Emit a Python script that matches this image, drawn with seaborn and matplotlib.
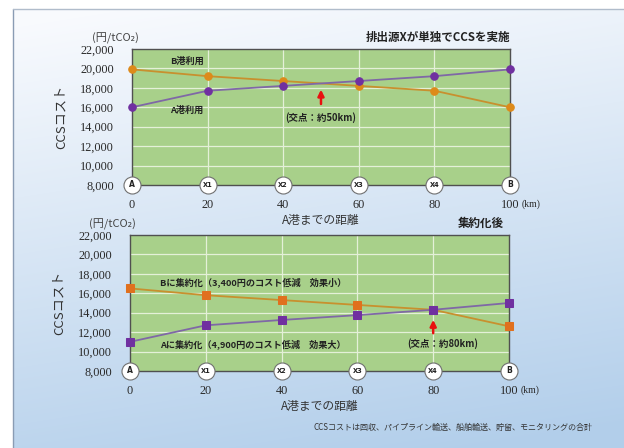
import numpy as np
import pandas as pd
import matplotlib
matplotlib.use("Agg")
import matplotlib.pyplot as plt
import seaborn as sns

sns.set_theme(style="white")
JP = ['Noto Sans CJK JP', 'DejaVu Sans']
SERIF = ['Liberation Serif', 'DejaVu Serif']
plt.rcParams['font.family'] = JP

# ---- data ----
distance = [0, 20, 40, 60, 80, 100]
site_labels = ['A', 'X1', 'X2', 'X3', 'X4', 'B']
y_ticks = [8000, 10000, 12000, 14000, 16000, 18000, 20000, 22000]

top_a_port = [16000, 17700, 18200, 18700, 19200, 19900]   # A港利用
top_b_port = [19900, 19200, 18700, 18200, 17700, 16000]   # B港利用
bot_b_hub = [16500, 15800, 15300, 14800, 14300, 12600]    # Bに集約化
bot_a_hub = [11000, 12700, 13250, 13750, 14300, 15000]    # Aに集約化

top_title = '排出源Xが単独でCCSを実施'
bot_title = '集約化後'
top_a_label = 'A港利用'
top_b_label = 'B港利用'
top_cross = '(交点：約50km)'
bot_b_label = 'Bに集約化（3,400円のコスト低減　効果小）'
bot_a_label = 'Aに集約化（4,900円のコスト低減　効果大）'
bot_cross = '(交点：約80km)'
y_label = 'CCSコスト'
unit_label = '(円/tCO₂)'
x_label = 'A港までの距離'
footnote = 'CCSコストは回収、パイプライン輸送、船舶輸送、貯留、モニタリングの合計'

PURPLE_LINE = '#7f68a6'
PURPLE_MK = '#7030a0'
ORANGE_LINE = '#c8902e'
ORANGE_MK = '#dd8a1a'
ORANGE_SQ = '#e0701e'
GREEN = '#a8d08a'
TXT = '#2a2a2a'

fig = plt.figure(figsize=(6.24, 4.48), dpi=100)

# background gradient and frame
bg = fig.add_axes([0, 0, 1, 1], zorder=-10)
H, W = 448, 624
yy, xx = np.mgrid[0:H, 0:W]
t = np.clip((yy / H) * 0.9 + (xx / W) * 0.2 - 0.05, 0, 1)
c0 = np.array([0.975, 0.982, 0.995])
c1 = np.array([0.70, 0.81, 0.92])
img = c0[None, None, :] * (1 - t[..., None]) + c1[None, None, :] * t[..., None]
img[:9, :, :] = 1.0
img[:, :13, :] = 1.0
bg.imshow(img, aspect='auto', extent=[0, W, H, 0])
bg.plot([13, 13], [9, 448], color='#8a9cb4', lw=1)
bg.plot([13, 624], [9, 9], color='#b0bccb', lw=1)
bg.set_xlim(0, W); bg.set_ylim(H, 0)
bg.axis('off')


def setup(ax):
    ax.set_facecolor(GREEN)
    ax.set_xlim(0, 100)
    ax.set_ylim(8000, 22000)
    ax.set_yticks(y_ticks)
    ax.set_yticklabels([f'{v:,}' for v in y_ticks], fontfamily=SERIF, fontsize=8.8, color=TXT)
    ax.set_xticks(distance)
    ax.set_xticklabels([str(d) for d in distance], fontfamily=SERIF, fontsize=8.8, color=TXT)
    ax.tick_params(axis='both', length=0)
    ax.tick_params(axis='y', pad=13)
    ax.tick_params(axis='x', pad=10)
    for yv in y_ticks[1:-1]:
        ax.axhline(yv, color='#e4f0d8', lw=0.9, zorder=1)
    for xv in distance[1:-1]:
        ax.axvline(xv, color='#e4f0d8', lw=0.9, zorder=1)
    for s in ax.spines.values():
        s.set_color('#505050')
        s.set_linewidth(1.0)
    ax.grid(False)
    # site markers on x-axis
    ax.scatter(distance, [8000] * len(distance), s=150, facecolor='white',
               edgecolor='#707070', linewidth=0.8, zorder=6, clip_on=False)
    for d, lab in zip(distance, site_labels):
        ax.text(d, 8000, lab, ha='center', va='center', fontsize=4.8 if len(lab) > 1 else 5.5,
                fontweight='bold', color='#222222', zorder=7, fontfamily=['DejaVu Sans'])
    ax.text(103, -0.105, '(km)', transform=ax.get_xaxis_transform(), ha='left', va='top',
            fontsize=7, fontfamily=SERIF, color=TXT)
    ax.text(-0.045, 1.035, unit_label, transform=ax.transAxes, ha='center', va='bottom',
            fontsize=8, color='#444444', fontfamily=JP)


def labels(ax):
    ax.set_xlabel(x_label, fontsize=8.5, color='#333333', labelpad=2)
    ax.set_ylabel(y_label, fontsize=9.5, color='#333333', labelpad=9)


ax1 = fig.add_axes([0.2115, 0.5871, 0.6058, 0.3036])
ax2 = fig.add_axes([0.2083, 0.1719, 0.6074, 0.3036])
setup(ax1)
setup(ax2)

df1 = pd.DataFrame({'d': distance, 'a': top_a_port, 'b': top_b_port})
sns.lineplot(data=df1, x='d', y='b', ax=ax1, color=ORANGE_LINE, lw=1.3, marker='o', markersize=5.4,
             markerfacecolor=ORANGE_MK, markeredgecolor=ORANGE_MK, zorder=4, clip_on=False)
sns.lineplot(data=df1, x='d', y='a', ax=ax1, color=PURPLE_LINE, lw=1.3, marker='o', markersize=5.4,
             markerfacecolor=PURPLE_MK, markeredgecolor=PURPLE_MK, zorder=5, clip_on=False)
labels(ax1)

df2 = pd.DataFrame({'d': distance, 'a': bot_a_hub, 'b': bot_b_hub})
sns.lineplot(data=df2, x='d', y='b', ax=ax2, color=ORANGE_LINE, lw=1.3, marker='s', markersize=5.2,
             markerfacecolor=ORANGE_SQ, markeredgecolor=ORANGE_SQ, zorder=4, clip_on=False)
sns.lineplot(data=df2, x='d', y='a', ax=ax2, color=PURPLE_LINE, lw=1.3, marker='s', markersize=5.2,
             markerfacecolor=PURPLE_MK, markeredgecolor=PURPLE_MK, zorder=5, clip_on=False)
labels(ax2)

# annotations top
ax1.text(14.5, 20750, top_b_label, ha='center', va='center', fontsize=6.6, fontweight='bold', color='#222222')
ax1.text(14.5, 15650, top_a_label, ha='center', va='center', fontsize=6.6, fontweight='bold', color='#222222')
ax1.text(50, 14950, top_cross, ha='center', va='center', fontsize=6.8, fontweight='bold', color='#222222')
ax1.annotate('', xy=(50, 18100), xytext=(50, 16050),
             arrowprops=dict(arrowstyle='-|>', color='#e81010', lw=1.8, mutation_scale=9))
ax1.text(1.0, 1.04, top_title, transform=ax1.transAxes, ha='right', va='bottom',
         fontsize=8.3, fontweight='bold', color='#222222')

# annotations bottom
ax2.text(7.8, 17100, bot_b_label, ha='left', va='center', fontsize=6.6, fontweight='bold', color='#222222')
ax2.text(7.8, 10800, bot_a_label, ha='left', va='center', fontsize=6.6, fontweight='bold', color='#222222')
ax2.text(82.5, 10800, bot_cross, ha='center', va='center', fontsize=6.8, fontweight='bold', color='#222222')
ax2.annotate('', xy=(80, 13550), xytext=(80, 11600),
             arrowprops=dict(arrowstyle='-|>', color='#e81010', lw=1.8, mutation_scale=9))
ax2.text(0.985, 1.04, bot_title, transform=ax2.transAxes, ha='right', va='bottom',
         fontsize=8.3, fontweight='bold', color='#222222')

fig.text(313 / 624, 1 - 427 / 448, footnote, ha='left', va='center', fontsize=5.8, color='#333333')

fig.savefig('out.png', dpi=100)
